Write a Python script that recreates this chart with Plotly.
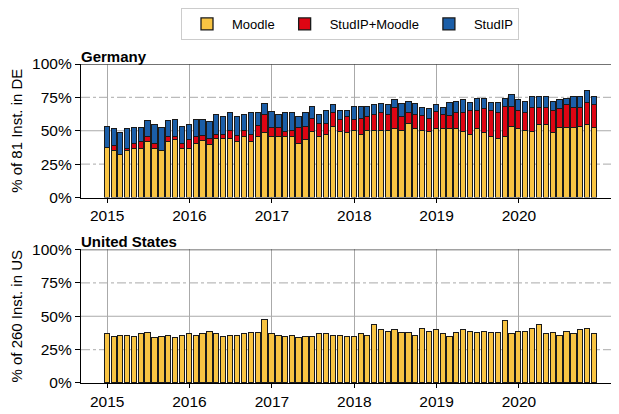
import pandas as pd
import plotly.graph_objs as go
from plotly.subplots import make_subplots

months = pd.date_range('2015-01-01', periods=72, freq='MS')
years = ['2015', '2016', '2017', '2018', '2019', '2020']
pct_ticks = [0, 25, 50, 75, 100]

# Germany, % of 81 institutions (stacked segments)
de_moodle = [37, 35, 32, 34.5, 36.5, 36.5, 41.5, 36.5, 35, 41.5, 43, 36.5,
             36.5, 40, 42, 39, 44, 44, 44, 41.5, 45, 41.5, 45, 48,
             45, 45, 45, 45, 40, 43, 49, 45, 47, 53, 49, 48,
             50, 46.5, 50, 50, 50, 50, 51.5, 50, 55, 51.5, 50, 49,
             51.5, 51.5, 51.5, 51.5, 49, 46.5, 51.5, 48, 45, 44, 45, 53,
             51.5, 50, 49, 54, 54, 48, 52, 52, 52, 53, 54, 52]
de_both = [0, 3.5, 0, 2, 3.5, 5, 3.5, 3.5, 0, 3.5, 2, 3.5,
           6.5, 5, 4, 5, 3, 3, 6, 4.5, 5, 5.5, 8.5, 14,
           7, 7, 4, 5, 12, 10, 10, 10, 8, 10, 9, 12,
           8, 12.5, 10, 11.5, 13.5, 11.5, 15.5, 10, 8.5, 10, 11, 10,
           12.5, 10.5, 9.5, 11.5, 14.5, 18.5, 13.5, 18.5, 20, 19, 23, 15,
           13.5, 13.5, 18, 13, 13, 17, 14.5, 17, 15, 14, 17, 17]
de_studip = [16, 12.5, 16, 14.5, 12, 10.5, 12, 14, 17, 12, 13, 13,
             11.5, 13, 12, 12.5, 14.5, 13, 13, 14, 11.5, 16, 9.5, 8,
             12, 9.5, 14, 13, 8, 10, 9, 6.5, 10, 6, 7, 5,
             10, 9, 8, 7.5, 6.5, 7.5, 6, 10, 8, 8.5, 6, 7.5,
             5, 5, 10, 8.5, 9.5, 6, 9, 7.5, 6, 8, 6, 8.5,
             8, 8, 8, 8, 8, 6.5, 6.5, 5, 8, 8, 8.5, 6]

# United States, % of 260 institutions
us_moodle = [36, 34, 35, 35, 34, 36, 37, 33, 34, 35, 33, 35,
             36, 35, 36, 38, 36, 34, 35, 35, 36, 37, 37, 47,
             36, 35, 34, 35, 33, 34, 34, 36, 36, 35, 35, 34,
             34, 36, 35, 43, 39, 37.5, 39, 37, 37, 35, 40, 37.5,
             39, 36.5, 34, 37, 39.5, 37.5, 37, 38, 37, 37, 46, 36,
             38, 37.5, 40, 43, 36, 37, 35, 37.5, 36, 39.5, 40, 36]

colors = {'Moodle': '#F8C443', 'StudIP+Moodle': '#DE0513', 'StudIP': '#1B5EA8'}
bar_w = 0.76 * 30.44 * 24 * 3600 * 1000
edge = dict(color='#1a1a1a', width=1.3)

fig = make_subplots(rows=2, cols=1, vertical_spacing=0.163)

for name, vals in [('Moodle', de_moodle), ('StudIP+Moodle', de_both), ('StudIP', de_studip)]:
    fig.add_trace(go.Bar(x=months, y=vals, name=name, width=bar_w,
                         marker=dict(color=colors[name], line=edge)), row=1, col=1)

fig.add_trace(go.Bar(x=months, y=us_moodle, name='Moodle', width=bar_w, showlegend=False,
                     marker=dict(color=colors['Moodle'], line=edge)), row=2, col=1)

font = dict(family='Liberation Sans, Arial, Helvetica, sans-serif', size=15.5, color='black')
tfont = dict(family='Liberation Sans, Arial, Helvetica, sans-serif', size=15, color='black')
xrange = ['2014-09-07', '2021-03-20']

for r in (1, 2):
    fig.update_xaxes(range=xrange, tickvals=[y + '-01-01' for y in years], ticktext=years,
                     showgrid=True, gridcolor='#aaaaaa', gridwidth=1,
                     showline=True, linecolor='black', linewidth=1.3,
                     ticks='outside', ticklen=4, tickcolor='black',
                     tickfont=font, zeroline=False, automargin=False, row=r, col=1)
    fig.update_yaxes(range=[0, 100], tickvals=pct_ticks, ticktext=['%d%%' % v for v in pct_ticks],
                     showgrid=False, showline=True, linecolor='black', linewidth=1.3,
                     ticks='outside', ticklen=5, tickcolor='black',
                     tickfont=font, zeroline=False, automargin=False, row=r, col=1)

fig.update_yaxes(title=dict(text='% of 81 Inst. in DE', font=tfont, standoff=10), row=1, col=1)
fig.update_yaxes(title=dict(text='% of 260 Inst. in US', font=tfont, standoff=10), row=2, col=1)

# horizontal gridlines: dash-dot at 25/75, solid at 50, dark top frame
shapes = []
for ax in ('', '2'):
    for yv, dash, col in [(25, 'dashdot', '#bbbbbb'), (75, 'dashdot', '#bbbbbb'), (50, 'solid', '#aaaaaa')]:
        shapes.append(dict(type='line', xref='x%s domain' % ax, yref='y' + ax, x0=0, x1=1, y0=yv, y1=yv,
                           line=dict(color=col, width=1.2, dash=dash), layer='below'))
    shapes.append(dict(type='line', xref='x%s domain' % ax, yref='y' + ax, x0=0, x1=1, y0=100, y1=100,
                       line=dict(color='#444444', width=1.6), layer='above'))

# page body adds an 8px offset, so the figure is sized 8px smaller
fig.update_layout(
    barmode='stack',
    bargap=0,
    width=611, height=406,
    margin=dict(l=73, r=0, t=56, b=31, autoexpand=False),
    plot_bgcolor='white', paper_bgcolor='white',
    font=font,
    shapes=shapes,
    legend=dict(orientation='h', x=0.5, xanchor='center', xref='paper',
                y=1.0, yanchor='top', yref='container',
                bordercolor='#cccccc', borderwidth=1, font=dict(size=13),
                itemwidth=40, traceorder='normal'),
    annotations=[
        dict(text='<b>Germany</b>', xref='x domain', yref='y domain', x=0, y=1, xanchor='left',
             yanchor='bottom', showarrow=False, font=dict(size=15, color='black'), xshift=-2, yshift=-3),
        dict(text='<b>United States</b>', xref='x2 domain', yref='y2 domain', x=0, y=1, xanchor='left',
             yanchor='bottom', showarrow=False, font=dict(size=15, color='black'), xshift=-2, yshift=-3),
    ],
)

fig.write_html("out.html")
